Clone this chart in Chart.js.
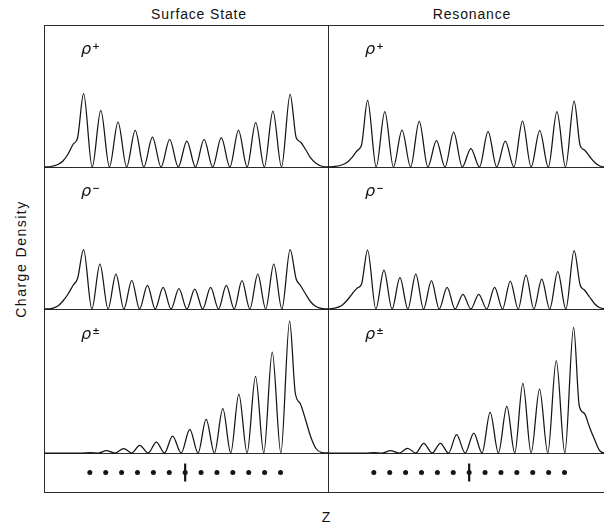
<!DOCTYPE html>
<html>
<head>
<meta charset="utf-8">
<script src="https://cdn.jsdelivr.net/npm/chart.js@4/dist/chart.umd.min.js"></script>
<style>
html,body{margin:0;padding:0;background:#fff;overflow:hidden;width:604px;height:523px;}
#fig{position:relative;width:604px;height:523px;overflow:hidden;background:#fff;}
.hl,.vl{position:absolute;background:#2b2b2b;}
.hl{height:1px;}
.vl{width:1px;}
canvas{position:absolute;}
.lbl{position:absolute;font-family:"Liberation Sans",Arial,sans-serif;color:#111;white-space:nowrap;line-height:1;}
.title{font-size:14px;letter-spacing:0.85px;transform:translateX(-50%);}
.rho{position:absolute;font-family:"DejaVu Sans",sans-serif;font-style:italic;font-size:16px;line-height:16px;color:#111;white-space:nowrap;}
.rho sup{font-size:9px;font-style:normal;position:relative;top:-5px;margin-left:1px;vertical-align:baseline;font-weight:bold;}
</style>
</head>
<body>
<div id="fig"></div>
<script>
// ---------------- data ----------------
const columnTitles = ["Surface State", "Resonance"];
const rowLabels = ["+", "\u2212", "\u00b1"];
const yAxisLabel = "Charge Density";
const xAxisLabel = "Z";

// z positions (in units of the layer spacing, 0 = slab centre)
const zPlus = [-8.3, -7.9, -7.5, -7.2, -6.9, -6.6, -6.35,
  -6, -5.5, -5, -4.5, -4, -3.5, -3, -2.5, -2, -1.5, -1, -0.5, 0,
  0.5, 1, 1.5, 2, 2.5, 3, 3.5, 4, 4.5, 5, 5.5, 6,
  6.35, 6.6, 6.9, 7.2, 7.5, 7.9, 8.3];
const rhoPlusSurface = [0, 0.5, 2.5, 6, 13, 23, 29,
  73.3, 0, 56.7, 0, 45, 0, 36.7, 0, 30, 0, 27.7, 0, 26,
  0, 27.7, 0, 29.3, 0, 36.7, 0, 44.3, 0, 56, 0, 72.7,
  29.5, 25, 17.5, 8.8, 3.8, 0.5, 0];
const rhoPlusResonance = [0, 0.6, 2, 4.5, 9.7, 16.5, 22,
  66.7, 0, 55.5, 0, 37, 0, 45.7, 0, 26.3, 0, 35, 0, 18.5,
  0, 35.3, 0, 25.8, 0, 46, 0, 36.3, 0, 55.3, 0, 66,
  21.5, 17, 10.5, 4.5, 1, 0, 0];

const zMinus = [-8.3, -7.9, -7.5, -7.2, -6.9, -6.6, -6.35,
  -6.0, -5.52, -5.05, -4.58, -4.12, -3.66, -3.2, -2.75, -2.29, -1.84, -1.38, -0.92, -0.46, 0,
  0.46, 0.92, 1.38, 1.84, 2.29, 2.75, 3.2, 3.66, 4.12, 4.58, 5.05, 5.52, 6.0,
  6.35, 6.6, 6.9, 7.2, 7.5, 7.9, 8.3];
const rhoMinusSurface = [0, 0.4, 3, 8, 15, 24, 30.5,
  59.3, 0, 45, 0, 35, 0, 28.7, 0, 23.7, 0, 21.7, 0, 20.3, 0,
  20, 0, 21.7, 0, 23.7, 0, 28.3, 0, 35, 0, 45, 0, 59.3,
  30, 23.5, 15, 7, 2.5, 0.3, 0];
const rhoMinusResonance = [0, 0.8, 3.5, 8.5, 15, 21, 25,
  59, 0, 39, 0, 31.3, 0, 35, 0, 28.3, 0, 21.7, 0, 14.7, 0,
  14.7, 0, 21.7, 0, 28, 0, 34, 0, 30, 0, 37.3, 0, 58.3,
  24, 19, 12, 5, 1.2, 0, 0];

const zMixed = [-8.3, -6.6, -6.1,
  -5.64, -5.15, -4.67, -4.17, -3.67, -3.2, -2.74, -2.25, -1.77, -1.3, -0.83, -0.33,
  0.17, 0.65, 1.12, 1.6, 2.09, 2.55, 3.02, 3.5, 3.99, 4.47, 4.96, 5.46, 5.97,
  6.3, 6.6, 6.9, 7.2, 7.5, 7.8, 8.3];
const rhoMixedSurface = [0, 0, 0,
  0.3, 0, 2.3, 0, 4.3, 0, 7.7, 0, 11, 0, 17, 0,
  23.7, 0, 33.7, 0, 44.3, 0, 59, 0, 76.7, 0, 101, 0, 132,
  60, 49, 33, 16, 4.5, 0.7, 0];
const rhoMixedResonance = [0, 0, 0,
  0.5, 0, 2.3, 0, 4.7, 0, 9.7, 0, 9.7, 0, 18.3, 0,
  20, 0, 40.7, 0, 46.7, 0, 69.7, 0, 64, 0, 92.3, 0, 125.7,
  47, 39.5, 25.5, 13, 2, 0, 0];

// atomic layer positions and the mirror-plane marker
const atomZ = [-5.8, -4.85, -3.9, -2.95, -2.0, -1.05, -0.1, 0.85, 1.8, 2.75, 3.7, 4.65, 5.6];
const centreZ = -0.1;

// ---------------- layout ----------------
const fig = document.getElementById('fig');
const X0 = 44, XMID = 328, COLW = 284;
const ROWS = [25, 167, 309, 453, 492];
const Z_MIN = -8.3, Z_MAX = 8.2;
const INK = '#151515';

function line(cls, l, t, w, h) {
  const d = document.createElement('div');
  d.className = cls;
  d.style.left = l + 'px'; d.style.top = t + 'px';
  if (w) d.style.width = w + 'px';
  if (h) d.style.height = h + 'px';
  fig.appendChild(d);
}
ROWS.forEach(y => line('hl', X0, y, 604 - X0, 0));
line('vl', X0, ROWS[0], 0, ROWS[4] - ROWS[0] + 1);
line('vl', XMID, ROWS[0], 0, ROWS[4] - ROWS[0] + 1);

function label(text, cls, l, t, extra) {
  const s = document.createElement('div');
  s.className = 'lbl ' + (cls || '');
  s.textContent = text;
  s.style.left = l + 'px'; s.style.top = t + 'px';
  if (extra) Object.assign(s.style, extra);
  fig.appendChild(s);
  return s;
}
label(columnTitles[0], 'title', 199, 7);
label(columnTitles[1], 'title', 472, 7);
label(yAxisLabel, '', 21, 259, {fontSize:'14px', letterSpacing:'1.5px', transform:'translate(-50%,-50%) rotate(-90deg)'});
label(xAxisLabel, '', 326, 510, {fontSize:'14px', transform:'translateX(-50%)'});

function makeCanvas(l, t, w, h) {
  const c = document.createElement('canvas');
  c.width = w; c.height = h;
  c.style.left = l + 'px'; c.style.top = t + 'px';
  c.style.width = w + 'px'; c.style.height = h + 'px';
  fig.appendChild(c);
  return c;
}

const PAD = 3;
function panel(col, row, z, rho) {
  const left = col === 0 ? X0 : XMID;
  const top = ROWS[row];
  const h = ROWS[row + 1] - ROWS[row];
  const c = makeCanvas(left, top, COLW, h + PAD);
  new Chart(c.getContext('2d'), {
    type: 'line',
    data: { datasets: [{
      data: z.map((v, i) => ({ x: v, y: rho[i] })),
      borderColor: INK, borderWidth: 1.25, pointRadius: 0,
      cubicInterpolationMode: 'monotone', fill: false
    }]},
    options: {
      responsive: false, animation: false, events: [],
      layout: { padding: 0 },
      plugins: { legend: { display: false }, tooltip: { enabled: false } },
      scales: {
        x: { type: 'linear', display: false, min: Z_MIN, max: Z_MAX },
        y: { display: false, min: -PAD, max: h }
      }
    }
  });
  const rs = document.createElement('div');
  rs.className = 'rho';
  rs.innerHTML = '\u03c1<sup>' + rowLabels[row] + '</sup>';
  rs.style.left = (left + 37) + 'px';
  rs.style.top = (top + [16, 16, 17][row]) + 'px';
  fig.appendChild(rs);
}
panel(0, 0, zPlus, rhoPlusSurface);
panel(1, 0, zPlus, rhoPlusResonance);
panel(0, 1, zMinus, rhoMinusSurface);
panel(1, 1, zMinus, rhoMinusResonance);
panel(0, 2, zMixed, rhoMixedSurface);
panel(1, 2, zMixed, rhoMixedResonance);

function strip(col) {
  const left = col === 0 ? X0 : XMID;
  const top = ROWS[3];
  const h = ROWS[4] - ROWS[3];
  const c = makeCanvas(left, top, COLW, h);
  new Chart(c.getContext('2d'), {
    type: 'line',
    data: { datasets: [
      { data: atomZ.map(v => ({ x: v, y: 0 })), showLine: false,
        pointRadius: 2.5, pointBackgroundColor: INK, pointBorderColor: INK, pointBorderWidth: 0 },
      { data: [{ x: centreZ, y: -0.58 }, { x: centreZ, y: 0.58 }],
        borderColor: INK, borderWidth: 2.2, pointRadius: 0 }
    ]},
    options: {
      responsive: false, animation: false, events: [],
      layout: { padding: 0 },
      plugins: { legend: { display: false }, tooltip: { enabled: false } },
      scales: {
        x: { type: 'linear', display: false, min: Z_MIN, max: Z_MAX },
        y: { display: false, min: -1, max: 1 }
      }
    }
  });
}
strip(0);
strip(1);
</script>
</body>
</html>
